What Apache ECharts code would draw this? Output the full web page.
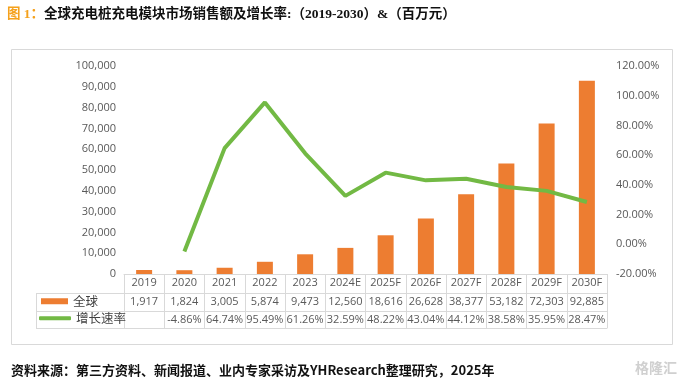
<!DOCTYPE html>
<html>
<head>
<meta charset="utf-8">
<script src="https://cdn.jsdelivr.net/npm/echarts@6/dist/echarts.min.js"></script>
<style>html,body{margin:0;padding:0;background:#fff}#c{width:685px;height:386px}</style>
</head>
<body>
<div id="c"></div>
<script>
const categories = ['2019','2020','2021','2022','2023','2024E','2025F','2026F','2027F','2028F','2029F','2030F'];
const salesValues = [1917, 1824, 3005, 5874, 9473, 12560, 18616, 26628, 38377, 53182, 72303, 92885];
const growthValues = [null, -4.86, 64.74, 95.49, 61.26, 32.59, 48.22, 43.04, 44.12, 38.58, 35.95, 28.47];
const leftTicks = {min: 0, max: 100000, interval: 10000};
const rightTicks = {min: -20, max: 120, interval: 20};

const salesText = salesValues.map(v => v.toLocaleString('en-US'));
const growthText = growthValues.map(v => v === null ? '' : v.toFixed(2) + '%');

const numFont = '"Open Sans", "Noto Sans CJK SC", sans-serif';
const cjkFont = '"Noto Sans CJK SC", sans-serif';
const gray = '#D9D9D9';
const labelColor = '#595959';

function tableAxis(data, offset, tickLen, showLabel) {
  return {
    type: 'category', data: data, position: 'bottom', offset: offset, gridIndex: 0,
    axisLine: {show: true, onZero: false, lineStyle: {color: gray, width: 1}},
    axisTick: {show: tickLen > 0, inside: false, length: tickLen, interval: 0, alignWithLabel: false, lineStyle: {color: gray, width: 1}},
    axisLabel: {show: showLabel, interval: 0, margin: 3, color: labelColor, fontSize: 11, fontFamily: numFont},
    splitLine: {show: false}
  };
}

const chart = echarts.init(document.getElementById('c'), null, {renderer: 'canvas'});
chart.setOption({
  backgroundColor: '#fff',
  animation: false,
  title: [
    {
      text: '{a|图 1：}{b|全球充电桩充电模块市场销售额及增长率:（2019-2030）&（百万元）}',
      left: 7, top: 8, padding: 0,
      textStyle: {
        rich: {
          a: {color: '#F5A11C', fontSize: 13.5, fontWeight: 'bold', fontFamily: '"Liberation Serif", "Noto Sans CJK SC", serif'},
          b: {color: '#111', fontSize: 13.5, fontWeight: 'bold', fontFamily: '"Liberation Serif", "Noto Sans CJK SC", serif'}
        }
      }
    },
    {
      text: '资料来源：第三方资料、新闻报道、业内专家采访及YHResearch整理研究，2025年',
      left: 11, top: 364, padding: 0,
      textStyle: {color: '#111', fontSize: 13, fontWeight: 'bold', fontFamily: '"Noto Sans CJK SC", sans-serif'}
    },
    {
      text: '格隆汇',
      right: 8, top: 361, padding: 0,
      textStyle: {color: '#D0D0D0', fontSize: 14, fontWeight: 'bold', fontFamily: cjkFont}
    }
  ],
  graphic: [
    {type: 'rect', shape: {x: 11.5, y: 49.5, width: 661, height: 295}, style: {fill: 'none', stroke: gray, lineWidth: 1}, silent: true},
    {type: 'line', shape: {x1: 36, y1: 293.5, x2: 124, y2: 293.5}, style: {stroke: gray, lineWidth: 1}, silent: true},
    {type: 'line', shape: {x1: 36, y1: 311.5, x2: 124, y2: 311.5}, style: {stroke: gray, lineWidth: 1}, silent: true},
    {type: 'line', shape: {x1: 36, y1: 328.5, x2: 124, y2: 328.5}, style: {stroke: gray, lineWidth: 1}, silent: true},
    {type: 'line', shape: {x1: 36.5, y1: 293, x2: 36.5, y2: 329}, style: {stroke: gray, lineWidth: 1}, silent: true}
  ],
  legend: [
    {
      data: ['全球'], left: 41, top: 295, padding: 0, itemWidth: 27, itemHeight: 6, icon: 'rect',
      selectedMode: false, textStyle: {color: '#404040', fontSize: 12.5, fontFamily: cjkFont}
    },
    {
      data: ['增长速率'], left: 39, top: 312, padding: 0, itemWidth: 32, itemHeight: 4, icon: 'roundRect',
      selectedMode: false, textStyle: {color: '#404040', fontSize: 12.5, fontFamily: cjkFont}
    }
  ],
  grid: {left: 124, right: 78, top: 66, bottom: 112, containLabel: false},
  xAxis: [
    tableAxis(categories, 0, 19, true),
    tableAxis(salesText, 19, 18, true),
    tableAxis(growthText, 37, 17, true),
    tableAxis(categories.map(() => ''), 54, 0, false)
  ],
  yAxis: [
    {
      type: 'value', min: leftTicks.min, max: leftTicks.max, interval: leftTicks.interval,
      axisLine: {show: false}, axisTick: {show: false}, splitLine: {show: false},
      axisLabel: {margin: 8, color: labelColor, fontSize: 11, fontFamily: numFont,
        formatter: v => v.toLocaleString('en-US')}
    },
    {
      type: 'value', min: rightTicks.min, max: rightTicks.max, interval: rightTicks.interval, position: 'right',
      axisLine: {show: false}, axisTick: {show: false}, splitLine: {show: false},
      axisLabel: {margin: 9, color: labelColor, fontSize: 11, fontFamily: numFont,
        formatter: v => v.toFixed(2) + '%'}
    }
  ],
  series: [
    {
      name: '全球', type: 'bar', data: salesValues, xAxisIndex: 0, yAxisIndex: 0,
      barWidth: 16, itemStyle: {color: '#ED7D31'}
    },
    {
      name: '增长速率', type: 'line', data: growthValues, xAxisIndex: 0, yAxisIndex: 1,
      symbol: 'none', showSymbol: false, connectNulls: false,
      lineStyle: {color: '#72B944', width: 4}, itemStyle: {color: '#72B944'}
    }
  ]
});
</script>
</body>
</html>
